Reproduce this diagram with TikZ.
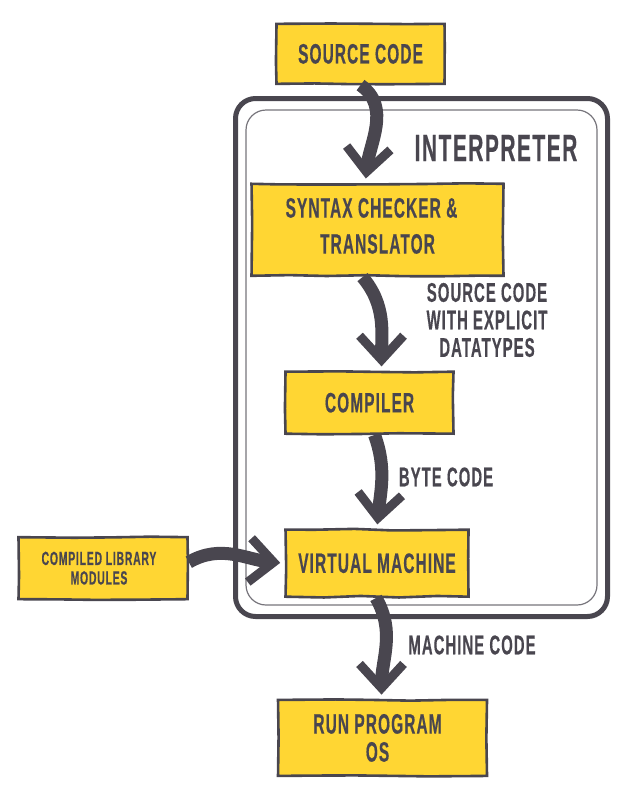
\documentclass[tikz,border=0pt]{standalone}
\usepackage{fontspec}
\newfontfamily\boxfont[FakeStretch=.55,FakeBold=.4,LetterSpace=4]{Liberation Sans}
\usetikzlibrary{arrows.meta}
\usetikzlibrary{decorations.pathmorphing}

\definecolor{ink}{HTML}{49464F}
\definecolor{boxyellow}{HTML}{FFD633}

\begin{document}
\begin{tikzpicture} [
    x=1pt, y=-1pt,
    stagebox/.style   = { rectangle, draw=ink, line width=2.6pt, fill=boxyellow,
                          text=ink, align=center, inner sep=0pt,
                          font=\boxfont\bfseries\fontsize{28}{36}\selectfont,
                          decorate, decoration={random steps, segment length=38pt, amplitude=.9pt} },
    flowline/.style   = { draw=ink, line width=13pt, shorten >=4pt,
                          -{Straight Barb[length=24pt, width=44pt, line width=9pt]} },
    outerframe/.style = { rectangle, draw=ink, line width=5pt, rounded corners=20pt,
                          minimum width=372pt, minimum height=518pt },
    innerframe/.style = { rectangle, draw=ink!75, line width=1.2pt, rounded corners=20pt,
                          minimum width=351pt, minimum height=495pt },
    caption/.style    = { text=ink, align=center, inner sep=0pt,
                          font=\boxfont\bfseries\fontsize{27}{27.5}\selectfont },
  ]
\useasboundingbox (0,0) rectangle (638,804);

\node [outerframe] (frame)  at (421.5,357.5) {};
\node [innerframe] (inner)  at (421.5,357.5) {};

\matrix (flow) [anchor=north west, inner sep=0pt, column sep=61pt, nodes={anchor=center}] at (17,22) {
  & \node [stagebox, minimum width=168pt, minimum height=60pt, xshift=-10pt] (source) {SOURCE CODE}; \\[96.5pt]
  & \node [stagebox, minimum width=252pt, minimum height=92pt, xshift=7pt] (checker) {SYNTAX CHECKER \&\hspace*{12pt} \\ TRANSLATOR\rule[-8pt]{0pt}{0pt}}; \\[92.5pt]
  & \node [stagebox, minimum width=168pt, minimum height=62pt, xshift=-1pt] (compiler) {COMPILER}; \\[92pt]
    \node [stagebox, minimum width=169pt, minimum height=62pt, yshift=-5pt,
           font=\boxfont\bfseries\fontsize{19}{19.5}\selectfont] (library) {COMPILED LIBRARY\hspace*{8pt} \\ MODULES\hspace*{8pt}};
  & \node [stagebox, minimum width=183pt, minimum height=67pt, xshift=6.5pt] (vm) {VIRTUAL MACHINE}; \\[97pt]
  & \node [stagebox, minimum width=209pt, minimum height=76pt, xshift=12pt,
           font=\boxfont\bfseries\fontsize{28}{28}\selectfont] (run) {RUN PROGRAM\hspace*{10pt} \\ OS\hspace*{10pt}}; \\
};

\node [caption, font=\boxfont\bfseries\fontsize{38}{38}\selectfont] (interp) at (496,148) {INTERPRETER};
\node [caption] (explicit) at (487,320) {SOURCE CODE \\ WITH EXPLICIT \\ DATATYPES};
\node [caption] (byte)     at (446,477) {BYTE CODE};
\node [caption] (machine)  at (472,645) {MACHINE CODE};

\begin{scope} [every path/.style=flowline]
    \path (source.south)  to [out=-35, in=85] ([xshift=-12pt]checker.north);
    \path ([xshift=-15pt]checker.south) to [out=-50, in=90] ([xshift=12pt]compiler.north);
    \path ([xshift=5pt]compiler.south)  to [out=-70, in=85] (vm.north);
    \path ([yshift=6pt]library.east)  to [out=30, in=175] (vm.west);
    \path ([xshift=-1pt]vm.south) to [out=-60, in=90] ([xshift=-1pt]run.north);
\end{scope}

\end{tikzpicture}
\end{document}
